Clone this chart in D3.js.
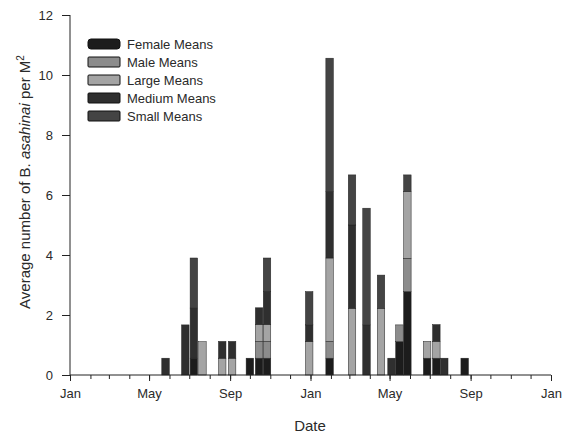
<!DOCTYPE html>
<html>
<head>
<meta charset="utf-8">
<script src="https://cdn.jsdelivr.net/npm/d3@7"></script>
<style>
  body { margin: 0; background: #fff; }
  text { font-family: Arial, "Liberation Sans", sans-serif; fill: #2a2a2a; }
</style>
</head>
<body>
<div id="chart-area"></div>
<script>
// sampling dates and mean counts per M2 for each group
var dates = ["2009-05-26","2009-06-25","2009-07-08","2009-07-21","2009-08-20","2009-09-04",
             "2009-10-01","2009-10-15","2009-10-27","2009-12-30","2010-01-30","2010-03-05",
             "2010-03-27","2010-04-18","2010-05-04","2010-05-16","2010-05-28","2010-06-27",
             "2010-07-11","2010-07-23","2010-08-23"];
var femaleMeans = [0, 0, 0.56, 0, 0, 0, 0.56, 0.56, 0.56, 0, 0.56, 0, 0, 0, 0, 1.11, 2.78, 0.56, 0.56, 0, 0.56];
var maleMeans   = [0, 0, 0, 0, 0, 0, 0, 0.56, 0.56, 0, 0.56, 0, 0, 0, 0, 0.56, 1.11, 0, 0, 0, 0];
var largeMeans  = [0, 0, 0, 1.11, 0.56, 0.56, 0, 0.56, 0.56, 1.11, 2.78, 2.22, 0, 2.22, 0, 0, 2.22, 0.56, 0.56, 0, 0];
var mediumMeans = [0.56, 1.67, 1.67, 0, 0.56, 0.56, 0, 0.56, 1.11, 0.56, 2.22, 2.78, 1.67, 0, 0.56, 0, 0, 0, 0.56, 0.56, 0];
var smallMeans  = [0, 0, 1.67, 0, 0, 0, 0, 0, 1.11, 1.11, 4.44, 1.67, 3.89, 1.11, 0, 0, 0.56, 0, 0, 0, 0];

var seriesNames = ["Female Means", "Male Means", "Large Means", "Medium Means", "Small Means"];
var seriesKeys = ["female", "male", "large", "medium", "small"];
var colors = ["#1c1c1c", "#8c8c8c", "#a4a4a4", "#2f2f2f", "#444444"];
var yTicks = [0, 2, 4, 6, 8, 10, 12];

var parse = d3.timeParse("%Y-%m-%d");
var data = dates.map(function(d, i) {
    return {date: parse(d), female: femaleMeans[i], male: maleMeans[i], large: largeMeans[i],
            medium: mediumMeans[i], small: smallMeans[i]};
});

var W = 568, H = 437;
var svg = d3.select("#chart-area").append("svg")
    .attr("width", W)
    .attr("height", H);

var x = d3.scaleTime()
    .domain([new Date(2009, 0, 1), new Date(2011, 0, 1)])
    .range([70, 551]);

var y = d3.scaleLinear()
    .domain([0, 12])
    .range([375, 15]);

var color = d3.scaleOrdinal().domain(seriesKeys).range(colors);

var stacked = d3.stack().keys(seriesKeys)(data);

// bar width about 11.4 days
var half = 5.7 * 24 * 3600 * 1000;

svg.append("g").selectAll("g")
    .data(stacked)
    .enter().append("g")
        .attr("fill", function(d) { return color(d.key); })
    .selectAll("rect")
    .data(function(d) { return d.filter(function(s) { return s[1] - s[0] > 0; }); })
    .enter().append("rect")
        .attr("x", function(d) { return x(new Date(+d.data.date - half)); })
        .attr("width", function(d) { return x(new Date(+d.data.date + half)) - x(new Date(+d.data.date - half)); })
        .attr("y", function(d) { return y(d[1]); })
        .attr("height", function(d) { return y(d[0]) - y(d[1]); })
        .attr("stroke", "#222")
        .attr("stroke-width", 0.5);

// x axis: monthly ticks, labels every 4 months
var xAxis = d3.axisBottom(x)
    .ticks(d3.timeMonth.every(4))
    .tickFormat(d3.timeFormat("%b"))
    .tickSize(6)
    .tickPadding(8);

var xMinor = d3.axisBottom(x)
    .ticks(d3.timeMonth.every(1))
    .tickFormat("")
    .tickSize(4);

svg.append("g")
    .attr("transform", "translate(0,375)")
    .call(xMinor)
    .call(function(g) { g.select(".domain").remove(); });

var gx = svg.append("g")
    .attr("transform", "translate(0,375)")
    .call(xAxis);
gx.selectAll("text").attr("font-size", 13).attr("fill", "#2a2a2a");
gx.select(".domain").attr("d", "M70,0H551");

var gy = svg.append("g")
    .attr("transform", "translate(70,0)")
    .call(d3.axisLeft(y).tickValues(yTicks).tickSize(8).tickPadding(9));
gy.selectAll("text").attr("font-size", 13).attr("fill", "#2a2a2a");
gy.select(".domain").attr("d", "M0,15V375");

svg.selectAll(".domain, .tick line").attr("stroke", "#222");

// axis titles
svg.append("text")
    .attr("x", 310)
    .attr("y", 431)
    .attr("text-anchor", "middle")
    .attr("font-size", 15)
    .text("Date");

var yt = svg.append("text")
    .attr("transform", "translate(30,182) rotate(-90)")
    .attr("text-anchor", "middle")
    .attr("font-size", 15);
yt.append("tspan").text("Average number of B. ");
yt.append("tspan").attr("font-style", "italic").text("asahinai");
yt.append("tspan").text(" per M");
yt.append("tspan").attr("font-size", 10).attr("dy", -6).text("2");

// legend
var legend = svg.append("g").selectAll("g")
    .data(seriesNames)
    .enter().append("g")
        .attr("transform", function(d, i) { return "translate(88," + (39 + i * 18) + ")"; });

legend.append("rect")
    .attr("width", 32)
    .attr("height", 10)
    .attr("rx", function(d, i) { return i === 0 ? 3 : 1; })
    .attr("fill", function(d, i) { return colors[i]; })
    .attr("stroke", "#111")
    .attr("stroke-width", 1);

legend.append("text")
    .attr("x", 39)
    .attr("y", 10)
    .attr("font-size", 13)
    .text(function(d) { return d; });
</script>
</body>
</html>
